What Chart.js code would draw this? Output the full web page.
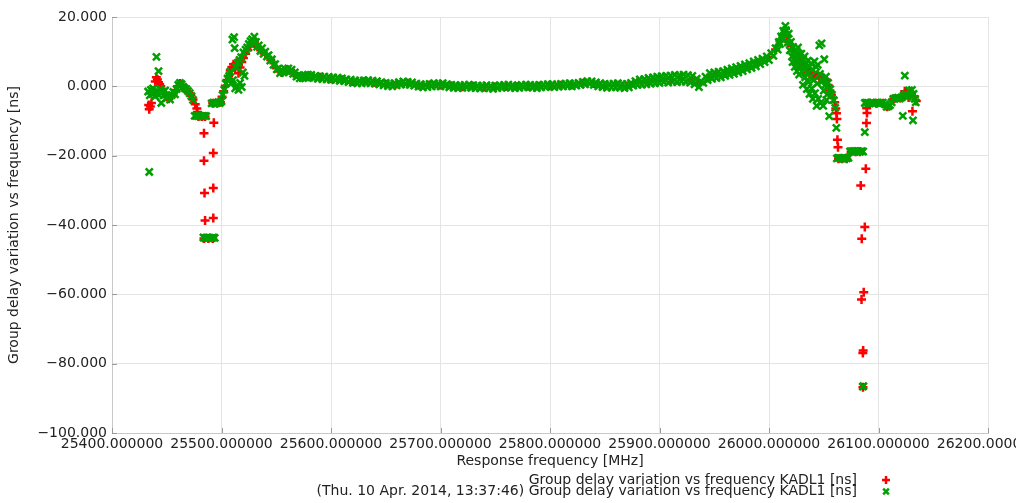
<!DOCTYPE html>
<html>
<head>
<meta charset="utf-8">
<script src="https://cdn.jsdelivr.net/npm/chart.js@4.4.1/dist/chart.umd.min.js"></script>
<style>
  html, body { margin: 0; padding: 0; background: #fff; overflow: hidden; }
  #wrap { width: 1016px; height: 503px; }
</style>
</head>
<body>
<div id="wrap"><canvas id="chart" width="1016" height="503"></canvas></div>
<script>
// ===============================
// Data: [frequency MHz, delay ns]
// ===============================
const xTicks = [25400, 25500, 25600, 25700, 25800, 25900, 26000, 26100, 26200];
const yTicks = [-100, -80, -60, -40, -20, 0, 20];

const legendLabels = [
  "Group delay variation vs frequency KADL1 [ns]",
  "(Thu. 10 Apr. 2014, 13:37:46) Group delay variation vs frequency KADL1 [ns]"
];

// red series (KADL1)
const redLeft = [
  [25433.5,-5.4],[25434,-6.6],[25435,-5.8],[25436,-4.8],[25438,-1.2],[25439.5,1.4],[25440.5,2.6],
  [25441.5,2.0],[25442.5,1.2],[25443.5,0.6],[25444.5,0.0],[25446,-1.2],[25448,-2.2],[25450,-3.0],
  [25452,-3.6],[25454,-3.0],[25456,-2.0],[25458,-1.2],[25460,0.0],[25462,0.8],[25464,0.4],
  [25466,-0.6],[25468,-1.0],[25470,-1.8],[25472,-2.6],[25474,-3.8],[25476,-5.2],[25477.5,-6.4],
  [25478,-7.4],[25479,-8.7],[25482,-8.7],[25485,-8.7],[25484,-13.5],[25493,-10.5],[25492.5,-19.2],
  [25484,-21.5],[25492.5,-29.3],[25484.5,-30.8],[25492.5,-38.0],[25485,-38.7],[25484,-43.9],
  [25488,-43.9],[25492,-43.9],[25492,-4.9],[25496,-4.9],[25499,-4.6],[25500.5,-3.0],[25502,-1.4],
  [25503.5,0.2],[25505,1.8],[25506.5,3.0],[25508,4.6],[25509.5,5.6],[25511,6.4],[25512.5,5.0],
  [25514,6.8],[25515.5,3.8],[25517,5.4],[25518.5,7.0],[25520,8.2],[25522,9.4],[25524,10.4],
  [25526,11.6],[25528,12.6],[25530,13.0],[25533,11.4],[25536,10.4],[25540,9.2]
];
const redMiddle = [
  [25545,7.6],[25550,5.2],[25555,4.0],[25560,4.8],[25566,3.8],[25572,2.6],[25580,3.0],[25590,2.6],
  [25600,2.2],[25610,1.9],[25620,1.4],[25630,1.3],[25640,1.2],[25650,0.6],[25660,0.7],[25670,0.9],
  [25680,0.3],[25690,0.4],[25700,0.4],[25710,0.1],[25720,-0.1],[25730,0.0],[25740,-0.2],[25750,-0.2],
  [25760,0.0],[25770,-0.1],[25780,0.1],[25790,0.0],[25800,0.2],[25810,0.3],[25820,0.4],[25830,0.9],
  [25840,0.8],[25850,0.2],[25860,0.3],[25870,0.1],[25880,1.1],[25890,1.5],[25900,1.9],[25910,2.1],
  [25920,2.3],[25930,2.0],[25936,0.8],[25944,2.4],[25952,3.2],[25960,3.8],[25970,4.6],[25980,5.7],
  [25990,6.8],[26000,8.4],[26006,10.6],[26010,13.0],[26013,15.0],[26015,16.6]
];
const redRight = [
  [26016,14.4],[26018,12.8],[26020,11.6],[26022,10.4],[26024,9.6],[26026,8.6],[26028,7.6],[26030,6.8],
  [26032,5.8],[26034,5.0],[26036,4.2],[26038,3.6],[26040,3.0],[26042,2.6],[26044,3.2],[26046,2.4],
  [26048,2.8],[26050,2.2],[26052.5,1.9],[26054,0.4],[26055.5,-1.2],[26057,-2.4],[26058.5,-3.4],
  [26060,-4.6],[26061,-6.4],[26061.6,-7.8],[26062,-9.4],[26062.5,-15.4],[26063,-17.6],[26063.5,-20.9],
  [26067,-20.9],[26071,-20.9],[26075,-18.9],[26079,-18.9],[26083,-18.9],[26088.4,-23.8],[26083.8,-28.6],
  [26087.5,-40.6],[26084.7,-44.0],[26086.5,-59.4],[26084.5,-61.5],[26086,-76.2],[26085.7,-76.9],
  [26085.8,-86.8],[26089,-10.6],[26089.5,-7.7],[26089.2,-6.3],[26092,-4.9],[26098,-4.9],[26104,-4.9],
  [26108,-5.9],[26114,-3.6],[26120,-3.4],[26124,-1.4],[26126,-2.0],[26127.5,-3.2],[26131,-7.2],
  [26133,-2.9],[26134.5,-4.2]
];

// green series (reference run)
const greenLeft = [
  [25433,-1.5],[25434,-24.7],[25434.5,-2.6],[25435.5,-1.0],[25436.5,-2.2],[25437.5,-0.6],[25438.5,-1.8],
  [25439.5,-2.9],[25440.6,8.5],[25441,-1.2],[25442.5,4.4],[25443,-2.5],[25444,-0.8],[25445,-4.8],
  [25446,-1.5],[25447,-2.6],[25448.5,-1.2],[25450,-3.4],[25451.5,-2.7],[25453,-3.8],[25454.5,-2.5],
  [25456,-1.6],[25457.5,-2.3],[25459,-0.8],[25460.5,0.4],[25462,1.0],[25463.5,0.6],[25465,-0.1],
  [25466.5,-0.6],[25468,-0.8],[25469.5,-1.4],[25471,-2.0],[25472.5,-2.8],[25474,-3.9],[25475.5,-8.5],
  [25477,-8.5],[25478.5,-8.6],[25480,-8.5],[25481.5,-8.6],[25483,-8.5],[25484.5,-8.5],[25486,-8.6],
  [25483.5,-43.6],[25485,-43.8],[25486.5,-43.6],[25488,-43.8],[25489.5,-43.7],[25491,-43.8],
  [25492.5,-43.6],[25493.8,-43.7],[25491,-4.9],[25492.5,-4.7],[25494,-4.9],[25495.5,-4.8],[25497,-4.6],
  [25498.5,-4.8],[25500,-4.3],[25501,-2.5],[25502.5,-1.0],[25504,0.8],[25505.5,2.2],[25507,3.0],
  [25508,4.2],[25509,0.9],[25510,13.5],[25510.5,1.8],[25511.5,14.2],[25512,11.0],[25512.5,-0.6],
  [25513.5,5.5],[25514,0.2],[25515,6.8],[25515.5,-1.0],[25516.5,7.6],[25517,1.0],[25518,8.4],
  [25518.5,-0.2],[25519.5,4.0],[25520,9.8],[25521,3.0],[25522,10.6],[25523.5,11.2],[25525,12.2],
  [25526.5,13.0],[25528,13.6],[25529,12.4],[25530,14.3],[25531.5,12.8],[25532.5,11.4],[25534,11.8],
  [25535.5,10.2],[25537,11.0],[25538.5,9.4],[25540,10.0]
];
const greenMiddle = [
  [25541.5,8.6],[25543,9.0],[25544.5,7.4],[25546,7.8],[25547.5,6.2],[25549,6.4],[25550.5,4.9],[25552,5.2],
  [25553.5,3.8],[25555,4.6],[25556.5,4.0],[25558,5.0],[25559.5,4.4],[25561,5.2],[25562.5,4.3],[25564,4.8],
  [25565.5,3.6],[25567,4.0],[25568.5,2.8],[25570,3.2],[25571.5,2.3],[25573,3.0],[25574.5,2.4],[25576,3.2],
  [25577.5,2.5],[25579,3.4],[25580.5,2.6],[25582,3.3],[25584,2.4],[25586,3.0],[25588,2.2],[25590,2.9],
  [25592,2.1],[25594,2.8],[25596,2.0],[25598,2.7],[25600,1.9],[25602,2.6],[25604,1.8],[25606,2.5],
  [25608,1.6],[25610,2.3],[25612,1.5],[25614,2.0],[25616,1.2],[25618,1.9],[25620,1.0],[25622,1.7],
  [25624,0.9],[25626,1.6],[25628,0.9],[25630,1.7],[25632,1.0],[25634,1.8],[25636,0.9],[25638,1.6],
  [25640,0.8],[25642,1.5],[25644,0.6],[25646,1.2],[25648,0.3],[25650,1.0],[25652,0.1],[25654,0.8],
  [25656,0.0],[25658,0.9],[25660,0.3],[25662,1.2],[25664,0.5],[25666,1.4],[25668,0.6],[25670,1.3],
  [25672,0.4],[25674,1.1],[25676,0.2],[25678,0.8],[25680,-0.1],[25682,0.6],[25684,-0.3],[25686,0.5],
  [25688,-0.2],[25690,0.7],[25692,0.0],[25694,0.9],[25696,0.1],[25698,0.8],[25700,0.0],[25702,0.9],
  [25704,0.1],[25706,0.6],[25708,-0.3],[25710,0.4],[25712,-0.4],[25714,0.3],[25716,-0.5],[25718,0.3],
  [25720,-0.4],[25722,0.4],[25724,-0.3],[25726,0.5],[25728,-0.4],[25730,0.3],[25732,-0.5],[25734,0.2],
  [25736,-0.6],[25738,0.2],[25740,-0.5],[25742,0.3],[25744,-0.6],[25746,0.1],[25748,-0.7],[25750,0.2],
  [25752,-0.5],[25754,0.3],[25756,-0.4],[25758,0.4],[25760,-0.3],[25762,0.5],[25764,-0.4],[25766,0.3],
  [25768,-0.5],[25770,0.2],[25772,-0.4],[25774,0.4],[25776,-0.3],[25778,0.5],[25780,-0.2],[25782,0.4],
  [25784,-0.4],[25786,0.3],[25788,-0.5],[25790,0.4],[25792,-0.3],[25794,0.5],[25796,-0.2],[25798,0.6],
  [25800,-0.1],[25802,0.6],[25804,-0.2],[25806,0.5],[25808,-0.1],[25810,0.7],[25812,0.0],[25814,0.8],
  [25816,0.1],[25818,0.9],[25820,0.0],[25822,0.8],[25824,0.2],[25826,1.0],[25828,0.4],[25830,1.3],
  [25832,0.6],[25834,1.5],[25836,0.8],[25838,1.4],[25840,0.4],[25842,1.1],[25844,0.0],[25846,0.9],
  [25848,-0.2],[25850,0.7],[25852,-0.4],[25854,0.6],[25856,-0.3],[25858,0.8],[25860,-0.2],[25862,0.9],
  [25864,-0.4],[25866,0.7],[25868,-0.5],[25870,0.6],[25872,-0.3],[25874,1.0],[25876,0.2],[25878,1.5],
  [25880,0.4],[25882,2.0],[25884,0.5],[25886,2.1],[25888,0.6],[25890,2.4],[25892,0.8],[25894,2.6],
  [25896,0.9],[25898,2.8],[25900,1.0],[25902,2.9],[25904,1.2],[25906,3.0],[25908,1.1],[25910,3.1],
  [25912,1.3],[25914,3.3],[25916,1.2],[25918,3.2],[25920,1.4],[25922,3.4],[25924,1.3],[25926,3.2],
  [25928,1.1],[25930,3.0],[25932,0.6],[25934,2.2],[25936,-0.2],[25938,1.4],[25940,1.0],[25942,2.8],
  [25944,1.8],[25946,3.8],[25948,2.2],[25950,4.0],[25952,2.4],[25954,4.2],[25956,2.6],[25958,4.4],
  [25960,3.0],[25962,4.8],[25964,3.3],[25966,5.2],[25968,3.6],[25970,5.5],[25972,4.0],[25974,5.9],
  [25976,4.4],[25978,6.3],[25980,4.9],[25982,6.7],[25984,5.3],[25986,7.2],[25988,5.8],[25990,7.6],
  [25992,6.4],[25994,8.0],[25996,7.0],[25998,8.6],[26000,7.6],[26002,9.6],[26004,8.8],[26006,11.0],
  [26008,10.6],[26009,12.8],[26010,12.2],[26011,14.4],[26012,13.8],[26013,16.0],[26014,15.4],
  [26015,17.4],[26015.5,16.2]
];
const greenRight = [
  [26016,14.8],[26017,12.6],[26018,15.2],[26019,10.4],[26020,12.8],[26021,8.6],[26022,11.4],[26023,9.8],
  [26024,7.2],[26025,10.4],[26026,8.0],[26027,5.8],[26028,9.2],[26029,6.4],[26030,4.2],[26031,7.8],
  [26032,5.0],[26033,2.6],[26034,6.6],[26035,3.8],[26036,1.2],[26037,5.8],[26038,2.8],[26039,-0.6],
  [26040,4.8],[26041,1.8],[26042,-2.0],[26043,5.6],[26044,0.8],[26045,-3.6],[26046,11.8],[26046.5,3.6],
  [26047,-4.8],[26048,12.4],[26049,1.6],[26049.5,-5.6],[26050.5,7.8],[26051,0.2],[26052,2.8],
  [26053,-2.4],[26054,1.0],[26055,-8.6],[26056,-0.8],[26057.5,-2.4],[26059,-4.0],[26060.5,-6.2],
  [26021.5,7.0],[26023.5,5.6],[26025.5,4.4],[26026.5,11.2],[26027.5,3.4],[26029.5,9.4],[26031,0.4],
  [26032.5,8.6],[26034.5,-0.8],[26035.5,7.4],[26037,-2.2],[26038.5,6.6],[26040,-3.6],[26041.5,7.2],
  [26043.5,-5.6],[26044.5,6.2],[26050,-1.2],[26052.5,-4.0],
  [26061.5,-12.0],[26062,-20.8],[26063.5,-20.6],[26065,-20.8],[26066.5,-20.7],[26068,-20.9],
  [26069.5,-20.7],[26071,-20.8],[26072.5,-20.6],[26074,-18.8],[26075.5,-18.7],[26077,-18.9],
  [26078.5,-18.7],[26080,-18.8],[26081.5,-18.7],[26083,-18.9],[26084.5,-18.7],[26086,-18.8],
  [26085.6,-86.6],[26086.2,-86.5],[26087.5,-13.2],[26087.5,-4.8],[26089,-4.7],[26090.5,-4.8],
  [26092,-4.9],[26093.5,-4.7],[26095,-4.8],[26096.5,-4.9],[26098,-4.7],[26099.5,-4.8],[26101,-4.9],
  [26102.5,-4.8],[26104,-4.7],[26106,-5.2],[26107.5,-5.9],[26109,-5.8],[26110.5,-5.4],[26112,-4.6],
  [26113.5,-3.6],[26115,-3.5],[26116.5,-3.4],[26118,-3.3],[26119.5,-3.5],[26121,-3.2],[26122.2,-8.5],
  [26123,-2.6],[26124,3.1],[26125,-2.2],[26126.5,-3.0],[26128,-1.2],[26129.5,-2.8],[26130.5,-1.0],
  [26131.5,-9.8],[26132,-2.2],[26133,-3.6],[26134,-4.6]
];

const FONT = "DejaVu Sans";
const TEXT = "#222";

// small ticks drawn inside the plot, like the original
const innerTicks = {
  id: "innerTicks",
  beforeDatasetsDraw(chart) {
    const { ctx, chartArea, scales } = chart;
    ctx.save();
    ctx.strokeStyle = "#9a9a9a";
    ctx.lineWidth = 1;
    ctx.beginPath();
    xTicks.forEach(v => {
      const px = Math.round(scales.x.getPixelForValue(v)) + 0.5;
      ctx.moveTo(px, chartArea.bottom);
      ctx.lineTo(px, chartArea.bottom - 5);
    });
    yTicks.forEach(v => {
      const py = Math.round(scales.y.getPixelForValue(v)) + 0.5;
      ctx.moveTo(chartArea.left, py);
      ctx.lineTo(chartArea.left + 5, py);
    });
    ctx.stroke();
    ctx.restore();
  }
};

// legend: text right aligned, marker after it
const legendRows = {
  id: "legendRows",
  afterDraw(chart) {
    const ctx = chart.ctx;
    ctx.save();
    ctx.font = "14px " + FONT;
    ctx.textAlign = "right";
    ctx.textBaseline = "middle";
    chart.data.datasets.forEach((ds, i) => {
      const y = 480 + i * 11.5;
      ctx.fillStyle = TEXT;
      ctx.fillText(ds.label, 857, y);
      ctx.strokeStyle = ds.borderColor;
      ctx.lineWidth = 2.5;
      Chart.helpers.drawPoint(ctx, { pointStyle: ds.pointStyle, radius: 4, borderWidth: 2.5, rotation: 0 }, 886, y);
    });
    ctx.restore();
  }
};

new Chart(document.getElementById("chart"), {
  type: "scatter",
  data: {
    datasets: [
      {
        label: legendLabels[0],
        data: redLeft.concat(redMiddle, redRight),
        pointStyle: "cross",
        pointRadius: 4.5,
        borderWidth: 2.5,
        borderColor: "#ff0000",
        backgroundColor: "#ff0000",
        order: 1
      },
      {
        label: legendLabels[1],
        data: greenLeft.concat(greenMiddle, greenRight),
        pointStyle: "crossRot",
        pointRadius: 5,
        borderWidth: 2.5,
        borderColor: "#00a000",
        backgroundColor: "#00a000",
        order: 0
      }
    ]
  },
  options: {
    responsive: false,
    animation: false,
    devicePixelRatio: 1,
    layout: { padding: { top: 17, right: 28, bottom: 0, left: 0 } },
    plugins: { legend: { display: false }, tooltip: { enabled: false } },
    scales: {
      x: {
        type: "linear",
        min: 25400,
        max: 26200,
        afterBuildTicks: s => { s.ticks = xTicks.map(v => ({ value: v })); },
        afterFit: s => { s.height = 70; s.paddingLeft = 0; s.paddingRight = 0; },
        ticks: {
          callback: v => v.toFixed(6),
          font: { family: FONT, size: 14 },
          color: TEXT,
          padding: 3,
          maxRotation: 0,
          autoSkip: false
        },
        grid: { color: "#e4e4e4", drawTicks: false },
        border: { color: "#c8c8c8" },
        title: {
          display: true,
          text: "Response frequency [MHz]",
          font: { family: FONT, size: 14 },
          color: TEXT,
          padding: { top: 0, bottom: 33 }
        }
      },
      y: {
        type: "linear",
        min: -100,
        max: 20,
        afterBuildTicks: s => { s.ticks = yTicks.map(v => ({ value: v })); },
        afterFit: s => { s.width = 112; s.paddingTop = 0; s.paddingBottom = 0; },
        ticks: {
          callback: v => (v < 0 ? "\u2212" + Math.abs(v).toFixed(3) : v.toFixed(3)),
          font: { family: FONT, size: 14 },
          color: TEXT,
          padding: 5
        },
        grid: { color: "#e4e4e4", drawTicks: false },
        border: { color: "#c8c8c8" },
        title: {
          display: true,
          text: "Group delay variation vs frequency [ns]",
          font: { family: FONT, size: 14 },
          color: TEXT,
          padding: { top: 6, bottom: 0 }
        }
      }
    }
  },
  plugins: [innerTicks, legendRows]
});
</script>
</body>
</html>
